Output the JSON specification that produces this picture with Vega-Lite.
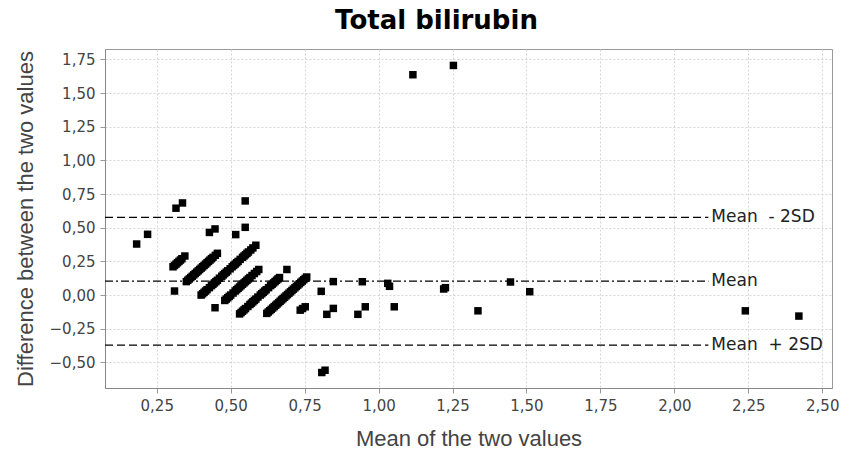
{
  "$schema": "https://vega.github.io/schema/vega-lite/v6.json",
  "width": 727,
  "height": 339,
  "autosize": {"type": "none"},
  "padding": {"left": 105, "top": 49, "right": 11, "bottom": 75},
  "background": "white",
  "title": {"text": "Total bilirubin", "font": "DejaVu Sans", "fontSize": 26, "fontWeight": "bold", "color": "#000", "anchor": "middle", "frame": "group", "dx": -32, "dy": 23, "baseline": "alphabetic", "offset": 17},
  "config": {
    "view": {"stroke": "#999", "strokeWidth": 1},
    "axis": {
      "labelFont": "DejaVu Sans", "labelFontSize": 15, "labelColor": "#444", "labelOverlap": false,
      "titleFont": "Liberation Sans", "titleFontSize": 22, "titleColor": "#444", "titleFontWeight": "normal",
      "domainColor": "#888", "tickColor": "#999", "tickSize": 5, "labelPadding": 5,
      "grid": true, "gridColor": "#d4d4d4", "gridDash": [2, 2], "gridWidth": 1
    }
  },
  "encoding": {
    "y": {"field": "diff", "type": "quantitative",
      "scale": {"domain": [-0.69, 1.827], "nice": false, "zero": false},
      "axis": {"title": "Difference between the two values", "values": [-0.5, -0.25, 0, 0.25, 0.5, 0.75, 1, 1.25, 1.5, 1.75],
        "labelOverlap": false, "labelFlush": false, "labelBound": false,
        "labelExpr": "replace(format(datum.value, '.2f'), '.', ',')", "titlePadding": 12}}
  },
  "layer": [
    {
      "data": {"values": [
        {"mean": 0.182, "diff": 0.379}, {"mean": 0.219, "diff": 0.451}, {"mean": 0.315, "diff": 0.645}, {"mean": 0.337, "diff": 0.684},
        {"mean": 0.549, "diff": 0.699}, {"mean": 0.428, "diff": 0.465}, {"mean": 0.447, "diff": 0.491}, {"mean": 0.517, "diff": 0.449},
        {"mean": 0.549, "diff": 0.503}, {"mean": 0.310, "diff": 0.030},
        {"mean": 0.305, "diff": 0.21}, {"mean": 0.31, "diff": 0.22}, {"mean": 0.315, "diff": 0.23}, {"mean": 0.32, "diff": 0.24}, {"mean": 0.325, "diff": 0.25}, {"mean": 0.33, "diff": 0.26}, {"mean": 0.335, "diff": 0.27}, {"mean": 0.345, "diff": 0.29},
        {"mean": 0.35, "diff": 0.10}, {"mean": 0.355, "diff": 0.11}, {"mean": 0.36, "diff": 0.12}, {"mean": 0.365, "diff": 0.13}, {"mean": 0.37, "diff": 0.14}, {"mean": 0.375, "diff": 0.15}, {"mean": 0.38, "diff": 0.16}, {"mean": 0.385, "diff": 0.17}, {"mean": 0.39, "diff": 0.18},
        {"mean": 0.395, "diff": 0.19}, {"mean": 0.40, "diff": 0.20}, {"mean": 0.405, "diff": 0.21}, {"mean": 0.41, "diff": 0.22}, {"mean": 0.415, "diff": 0.23}, {"mean": 0.42, "diff": 0.24}, {"mean": 0.425, "diff": 0.25}, {"mean": 0.43, "diff": 0.26}, {"mean": 0.435, "diff": 0.27}, {"mean": 0.44, "diff": 0.28}, {"mean": 0.448, "diff": 0.295}, {"mean": 0.455, "diff": 0.31},
        {"mean": 0.40, "diff": 0.00}, {"mean": 0.405, "diff": 0.01}, {"mean": 0.41, "diff": 0.02}, {"mean": 0.415, "diff": 0.03}, {"mean": 0.42, "diff": 0.04}, {"mean": 0.428, "diff": 0.055}, {"mean": 0.435, "diff": 0.07}, {"mean": 0.44, "diff": 0.08}, {"mean": 0.445, "diff": 0.09},
        {"mean": 0.45, "diff": 0.10}, {"mean": 0.455, "diff": 0.11}, {"mean": 0.462, "diff": 0.125}, {"mean": 0.47, "diff": 0.14}, {"mean": 0.475, "diff": 0.15}, {"mean": 0.48, "diff": 0.16}, {"mean": 0.485, "diff": 0.17}, {"mean": 0.49, "diff": 0.18}, {"mean": 0.498, "diff": 0.195}, {"mean": 0.505, "diff": 0.21},
        {"mean": 0.51, "diff": 0.22}, {"mean": 0.515, "diff": 0.23}, {"mean": 0.52, "diff": 0.24}, {"mean": 0.525, "diff": 0.25}, {"mean": 0.532, "diff": 0.265}, {"mean": 0.54, "diff": 0.28}, {"mean": 0.545, "diff": 0.29}, {"mean": 0.55, "diff": 0.30}, {"mean": 0.555, "diff": 0.31}, {"mean": 0.56, "diff": 0.32},
        {"mean": 0.568, "diff": 0.335}, {"mean": 0.575, "diff": 0.35}, {"mean": 0.585, "diff": 0.37},
        {"mean": 0.447, "diff": -0.094}, {"mean": 0.48, "diff": -0.04}, {"mean": 0.485, "diff": -0.03}, {"mean": 0.49, "diff": -0.02}, {"mean": 0.495, "diff": -0.01}, {"mean": 0.50, "diff": 0.00}, {"mean": 0.508, "diff": 0.015}, {"mean": 0.515, "diff": 0.03},
        {"mean": 0.52, "diff": 0.04}, {"mean": 0.525, "diff": 0.05}, {"mean": 0.53, "diff": 0.06}, {"mean": 0.535, "diff": 0.07}, {"mean": 0.54, "diff": 0.08}, {"mean": 0.545, "diff": 0.09}, {"mean": 0.55, "diff": 0.10}, {"mean": 0.555, "diff": 0.11}, {"mean": 0.56, "diff": 0.12}, {"mean": 0.565, "diff": 0.13},
        {"mean": 0.572, "diff": 0.145}, {"mean": 0.58, "diff": 0.16}, {"mean": 0.588, "diff": 0.175}, {"mean": 0.595, "diff": 0.19},
        {"mean": 0.53, "diff": -0.14}, {"mean": 0.535, "diff": -0.13}, {"mean": 0.54, "diff": -0.12}, {"mean": 0.545, "diff": -0.11}, {"mean": 0.55, "diff": -0.10}, {"mean": 0.558, "diff": -0.085}, {"mean": 0.565, "diff": -0.07}, {"mean": 0.57, "diff": -0.06}, {"mean": 0.575, "diff": -0.05},
        {"mean": 0.58, "diff": -0.04}, {"mean": 0.585, "diff": -0.03}, {"mean": 0.592, "diff": -0.015}, {"mean": 0.60, "diff": 0.00}, {"mean": 0.605, "diff": 0.01}, {"mean": 0.61, "diff": 0.02}, {"mean": 0.615, "diff": 0.03}, {"mean": 0.62, "diff": 0.04}, {"mean": 0.628, "diff": 0.055}, {"mean": 0.635, "diff": 0.07},
        {"mean": 0.64, "diff": 0.08}, {"mean": 0.645, "diff": 0.09}, {"mean": 0.65, "diff": 0.10}, {"mean": 0.655, "diff": 0.11}, {"mean": 0.66, "diff": 0.12}, {"mean": 0.665, "diff": 0.13}, {"mean": 0.69, "diff": 0.19},
        {"mean": 0.622, "diff": -0.136}, {"mean": 0.627, "diff": -0.126}, {"mean": 0.632, "diff": -0.116}, {"mean": 0.637, "diff": -0.106}, {"mean": 0.642, "diff": -0.096}, {"mean": 0.647, "diff": -0.086}, {"mean": 0.652, "diff": -0.076}, {"mean": 0.657, "diff": -0.066}, {"mean": 0.662, "diff": -0.056},
        {"mean": 0.667, "diff": -0.046}, {"mean": 0.672, "diff": -0.036}, {"mean": 0.677, "diff": -0.026}, {"mean": 0.682, "diff": -0.016}, {"mean": 0.687, "diff": -0.006}, {"mean": 0.692, "diff": 0.004}, {"mean": 0.697, "diff": 0.014}, {"mean": 0.702, "diff": 0.024}, {"mean": 0.707, "diff": 0.034}, {"mean": 0.712, "diff": 0.044},
        {"mean": 0.717, "diff": 0.054}, {"mean": 0.722, "diff": 0.064}, {"mean": 0.727, "diff": 0.074}, {"mean": 0.732, "diff": 0.084}, {"mean": 0.737, "diff": 0.094}, {"mean": 0.742, "diff": 0.104}, {"mean": 0.747, "diff": 0.114}, {"mean": 0.752, "diff": 0.124}, {"mean": 0.757, "diff": 0.134},
        {"mean": 0.735, "diff": -0.112}, {"mean": 0.743, "diff": -0.1}, {"mean": 0.752, "diff": -0.087}, {"mean": 0.806, "diff": 0.028}, {"mean": 0.847, "diff": 0.100},
        {"mean": 0.825, "diff": -0.143}, {"mean": 0.847, "diff": -0.099}, {"mean": 0.808, "diff": -0.575}, {"mean": 0.819, "diff": -0.558},
        {"mean": 0.945, "diff": 0.099}, {"mean": 0.930, "diff": -0.143}, {"mean": 0.955, "diff": -0.087}, {"mean": 1.031, "diff": 0.087},
        {"mean": 1.037, "diff": 0.065}, {"mean": 1.053, "diff": -0.087}, {"mean": 1.116, "diff": 1.636}, {"mean": 1.253, "diff": 1.705},
        {"mean": 1.220, "diff": 0.045}, {"mean": 1.226, "diff": 0.055}, {"mean": 1.336, "diff": -0.117}, {"mean": 1.446, "diff": 0.097},
        {"mean": 1.511, "diff": 0.025}, {"mean": 2.240, "diff": -0.117}, {"mean": 2.421, "diff": -0.156}
      ]},
      "mark": {"type": "point", "shape": "square", "filled": true, "size": 56, "color": "#000", "opacity": 1, "strokeWidth": 0},
      "encoding": {
        "x": {"field": "mean", "type": "quantitative",
          "scale": {"domain": [0.075, 2.533], "nice": false, "zero": false},
          "axis": {"title": "Mean of the two values", "values": [0.25, 0.5, 0.75, 1, 1.25, 1.5, 1.75, 2, 2.25, 2.5],
            "labelOverlap": false, "labelFlush": false,
            "labelExpr": "replace(format(datum.value, '.2f'), '.', ',')", "titlePadding": 15}}
      }
    },
    {
      "data": {"values": [
        {"line": "Mean\u00a0 - 2SD", "diff": 0.577, "style": "dashed"},
        {"line": "Mean", "diff": 0.103, "style": "dashdot"},
        {"line": "Mean\u00a0 + 2SD", "diff": -0.372, "style": "dashed"}
      ]},
      "layer": [
        {
          "mark": {"type": "rule", "color": "#000", "strokeWidth": 1.3},
          "encoding": {
            "x": {"datum": 0.075},
            "x2": {"datum": 2.115},
            "strokeDash": {"field": "style", "type": "nominal", "scale": {"domain": ["dashed", "dashdot"], "range": [[8, 4], [8, 3, 2, 3]]}, "legend": null}
          }
        },
        {
          "mark": {"type": "text", "align": "left", "baseline": "middle", "dx": 3, "font": "DejaVu Sans", "fontSize": 17, "color": "#222"},
          "encoding": {
            "x": {"datum": 2.115},
            "text": {"field": "line"}
          }
        }
      ]
    }
  ]
}
